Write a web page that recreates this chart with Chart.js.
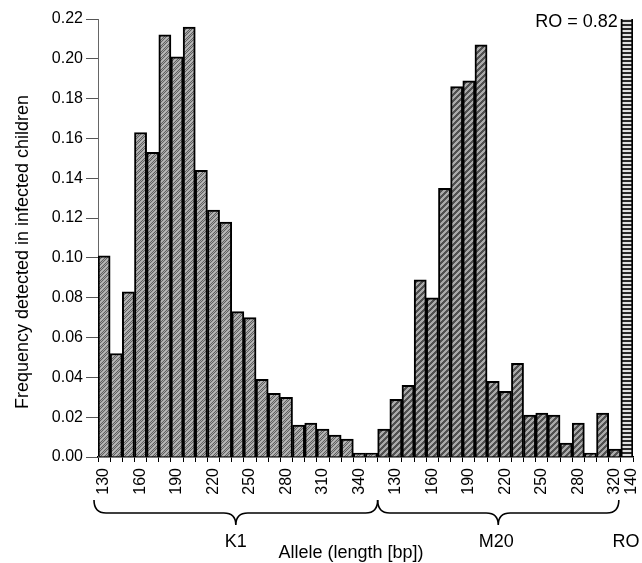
<!DOCTYPE html>
<html><head><meta charset="utf-8">
<script src="https://cdn.jsdelivr.net/npm/chart.js@4.4.1/dist/chart.umd.min.js"></script>
<style>html,body{margin:0;padding:0;background:#fff;}canvas{display:block;}</style>
</head><body>
<canvas id="c" width="642" height="563"></canvas>
<script>
// ---- data ----
const k1Alleles = ['130','140','150','160','170','180','190','200','210','220','230','240','250','260','270','280','290','300','310','320','330','340','350'];
const k1Values  = [0.101,0.052,0.083,0.163,0.153,0.212,0.201,0.216,0.144,0.124,0.118,0.073,0.070,0.039,0.032,0.030,0.016,0.017,0.014,0.011,0.009,0.002,0.002];
const m20Alleles = ['120','130','140','150','160','170','180','190','200','210','220','230','240','250','260','270','280','290','300','320'];
const m20Values  = [0.014,0.029,0.036,0.089,0.080,0.135,0.186,0.189,0.207,0.038,0.033,0.047,0.021,0.022,0.021,0.007,0.017,0.002,0.022,0.004];
const roAlleles = ['140'];
const roValues  = [0.82];
const groupNames = ['K1','M20','RO'];
const yTicksMax = 0.22, yTicksStep = 0.02;
const yTitle = 'Frequency detected in infected children';
const xTitle = 'Allele (length [bp])';
const roNote = 'RO = 0.82';

const categories = [...k1Alleles, ...m20Alleles, ...roAlleles];
const values = [...k1Values, ...m20Values, ...roValues];
const groupOf = [...k1Alleles.map(()=>0), ...m20Alleles.map(()=>1), ...roAlleles.map(()=>2)];

const FONT = '"Liberation Sans", Arial, Helvetica, sans-serif';

function makePattern(kind){
  const s = kind==='ro' ? 4 : 6;
  const c = document.createElement('canvas'); c.width = s; c.height = s;
  const g = c.getContext('2d');
  const img = g.createImageData(s, s);
  for (let y=0;y<s;y++) for (let x=0;x<s;x++){
    let v;
    if (kind==='k1') { v = ((x+y)%2===0) ? 95 : 170; if ((x+y)%6===0) v = 185; }
    else if (kind==='m20') { v = ((x+y)%6) < 3 ? 80 : 170; }
    else { v = (y<2) ? 40 : 225; }
    const i=(y*s+x)*4; img.data[i]=v; img.data[i+1]=v; img.data[i+2]=v; img.data[i+3]=255;
  }
  g.putImageData(img,0,0);
  return document.getElementById('c').getContext('2d').createPattern(c,'repeat');
}
const pats = [makePattern('k1'), makePattern('m20'), makePattern('ro')];

// nudge the crowded last tick label (RO "140") a little to the right, as in the reference
const labelNudge = {
  id: 'labelNudge',
  beforeDraw(chart){
    const xs = chart.scales.x;
    const items = xs.getLabelItems(chart.chartArea);
    const last = items.find(it => it.label === roAlleles[0] && it.options && it.options.translation);
    if (last && !last._nudged) { last.options.translation[0] += 5; last._nudged = true; }
  }
};

const annotations = {
  id: 'annotations',
  afterDraw(chart){
    const ctx = chart.ctx, xs = chart.scales.x;
    const half = (xs.getPixelForValue(1) - xs.getPixelForValue(0)) / 2;
    const edgeL = i => xs.getPixelForValue(i) - half;
    const edgeR = i => xs.getPixelForValue(i) + half;
    const nK = k1Alleles.length, nM = m20Alleles.length;
    const yTop = 500, yMid = 513, yTip = 525;
    function brace(x0, x1){
      const xc = (x0+x1)/2, r = 12;
      ctx.beginPath();
      ctx.moveTo(x0, yTop);
      ctx.quadraticCurveTo(x0, yMid, x0 + r, yMid);
      ctx.lineTo(xc - r, yMid);
      ctx.quadraticCurveTo(xc, yMid, xc, yTip);
      ctx.quadraticCurveTo(xc, yMid, xc + r, yMid);
      ctx.lineTo(x1 - r, yMid);
      ctx.quadraticCurveTo(x1, yMid, x1, yTop);
      ctx.stroke();
      return xc;
    }
    ctx.save();
    ctx.strokeStyle = '#000'; ctx.lineWidth = 1.6;
    const c1 = brace(edgeL(0) - 4, edgeR(nK-1));
    const c2 = brace(edgeR(nK-1), edgeR(nK+nM-1) - 2);
    ctx.fillStyle = '#000';
    ctx.font = '18px ' + FONT;
    ctx.textAlign = 'center'; ctx.textBaseline = 'middle';
    ctx.fillText(groupNames[0], c1, 542);
    ctx.fillText(groupNames[1], c2 - 2, 542);
    ctx.fillText(groupNames[2], xs.getPixelForValue(nK+nM) - 1, 542);
    ctx.fillText(xTitle, 351, 553);
    ctx.textAlign = 'right';
    ctx.fillText(roNote, edgeL(nK+nM) - 3, 22);
    ctx.translate(23, 252);
    ctx.rotate(-Math.PI/2);
    ctx.textAlign = 'center';
    ctx.fillText(yTitle, 0, 0);
    ctx.restore();
  }
};

new Chart(document.getElementById('c'), {
  type: 'bar',
  data: {
    labels: categories,
    datasets: [{
      data: values,
      backgroundColor: groupOf.map(g => pats[g]),
      borderColor: '#000',
      borderWidth: 2,
      barPercentage: 1.0,
      categoryPercentage: 1.0
    }]
  },
  options: {
    responsive: false,
    animation: false,
    devicePixelRatio: 1,
    layout: { padding: { top: 19, right: 9, left: 0, bottom: 0 } },
    plugins: { legend: { display: false }, tooltip: { enabled: false } },
    scales: {
      x: {
        offset: true,
        afterFit(scale){ scale.height = 106; scale.paddingRight = 0; scale.paddingLeft = 0; },
        grid: { drawOnChartArea: false, offset: true, tickLength: 5, color: '#000', lineWidth: 1 },
        border: { color: '#000', width: 1.5 },
        ticks: {
          autoSkip: false, minRotation: 90, maxRotation: 90, padding: 6,
          color: '#000', font: { family: FONT, size: 16 },
          callback: (v, i) => (i % 3 === 0 || i === categories.length - 1) ? categories[i] : ''
        }
      },
      y: {
        min: 0, max: yTicksMax,
        afterFit(scale){ scale.width = 98; },
        grid: { drawOnChartArea: false, tickLength: 12, color: '#555', lineWidth: 1 },
        border: { color: '#666', width: 1 },
        ticks: {
          stepSize: yTicksStep, padding: 3, color: '#000',
          font: { family: FONT, size: 16 },
          callback: v => Number(v).toFixed(2)
        }
      }
    }
  },
  plugins: [labelNudge, annotations]
});
</script>
</body></html>
